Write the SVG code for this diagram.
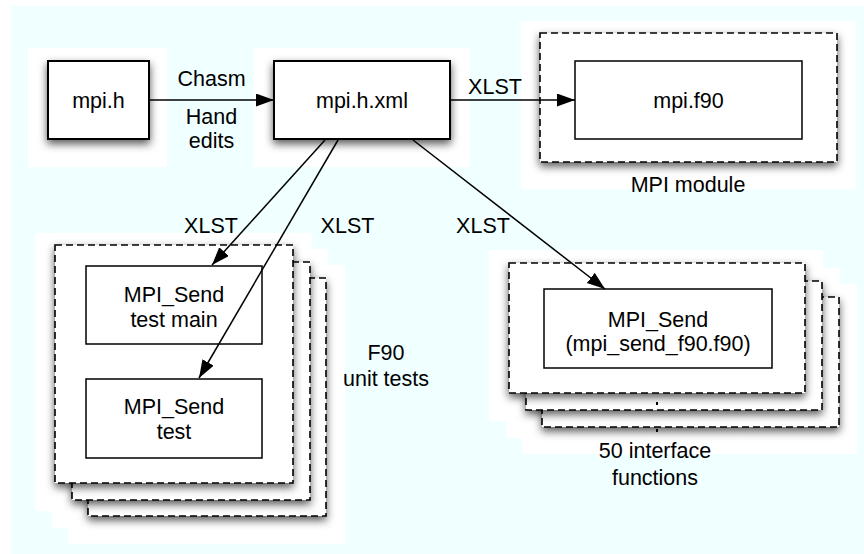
<svg xmlns="http://www.w3.org/2000/svg" width="864" height="554" viewBox="0 0 864 554">
  <defs>
    <filter id="shadow" x="-20%" y="-20%" width="140%" height="160%">
      <feDropShadow dx="0" dy="4" stdDeviation="4" flood-color="#000" flood-opacity="0.65"/>
    </filter>
    <marker id="arrow" markerUnits="userSpaceOnUse" markerWidth="20" markerHeight="14" refX="18" refY="6.5" orient="auto">
      <path d="M0,0 L18,6.5 L0,13 Z" fill="#000"/>
    </marker>
  </defs>
  <style>
    .halo { fill: #ffffff; stroke: none; }
    .box { fill: #ffffff; stroke: #000; stroke-width: 2; }
    .inner { fill: #ffffff; stroke: #000; stroke-width: 1.5; }
    .sheet { fill: #ffffff; stroke: #000; stroke-width: 1.6; stroke-dasharray: 7 4; }
    .shadowed { filter: url(#shadow); }
    .label { font-family: "Liberation Sans", Arial, sans-serif; font-size: 21.5px; fill: #000; text-anchor: middle; }
    .edge { fill: none; stroke: #000; stroke-width: 1.5; marker-end: url(#arrow); }
  </style>

  <!-- page background -->
  <rect x="11" y="6" width="853" height="548" fill="#f0ffff"/>

  <!-- white backdrops behind each shape -->
  <g id="backdrops">
    <rect class="halo" x="28" y="48" width="139" height="119"/>
    <rect class="halo" x="254" y="48" width="216" height="119"/>
    <rect class="halo" x="521" y="21" width="335" height="168"/>
    <rect class="halo" x="35" y="233" width="277" height="278"/>
    <rect class="halo" x="52" y="249" width="276" height="279"/>
    <rect class="halo" x="68" y="265" width="277" height="279"/>
    <rect class="halo" x="489" y="250" width="334" height="171"/>
    <rect class="halo" x="506" y="268" width="334" height="170"/>
    <rect class="halo" x="522" y="284" width="335" height="170"/>
  </g>

  <g id="mpi-h">
    <rect class="box shadowed" x="48" y="61" width="101" height="78"/>
    <text class="label" x="98.5" y="108">mpi.h</text>
  </g>

  <g id="mpi-h-xml">
    <rect class="box shadowed" x="274" y="61" width="176" height="78"/>
    <text class="label" x="362" y="108">mpi.h.xml</text>
  </g>

  <g id="mpi-module">
    <rect class="sheet shadowed" x="540" y="33" width="297" height="129"/>
    <rect class="inner" x="575" y="61" width="227" height="78"/>
    <text class="label" x="688.5" y="108">mpi.f90</text>
    <text class="label" x="688" y="192">MPI module</text>
  </g>

  <g id="unit-tests">
    <rect class="sheet shadowed" x="88" y="278" width="238" height="238"/>
    <rect class="sheet shadowed" x="72" y="262" width="238" height="238"/>
    <rect class="sheet shadowed" x="55" y="245" width="238" height="238"/>
    <g id="test-main">
      <rect class="inner" x="86" y="266" width="176" height="78"/>
      <text class="label" x="174" y="302">MPI_Send</text>
      <text class="label" x="174" y="327">test main</text>
    </g>
    <g id="test">
      <rect class="inner" x="86" y="379" width="176" height="79"/>
      <text class="label" x="174" y="414">MPI_Send</text>
      <text class="label" x="174" y="439">test</text>
    </g>
    <text class="label" x="386" y="360">F90</text>
    <text class="label" x="386" y="386">unit tests</text>
  </g>

  <g id="interface-functions">
    <rect class="sheet shadowed" x="542" y="297" width="297" height="130"/>
    <rect class="sheet shadowed" x="526" y="281" width="296" height="129"/>
    <rect class="sheet shadowed" x="509" y="263" width="296" height="130"/>
    <rect x="656" y="402" width="2" height="3" fill="#000"/>
    <rect x="656" y="429" width="2" height="3" fill="#000"/>
    <g id="mpi-send">
      <rect class="inner" x="544" y="289" width="228" height="79"/>
      <text class="label" x="658" y="327">MPI_Send</text>
      <text class="label" x="658" y="351">(mpi_send_f90.f90)</text>
    </g>
    <text class="label" x="655" y="458">50 interface</text>
    <text class="label" x="655" y="485">functions</text>
  </g>

  <g id="connectors">
    <line class="edge" x1="149" y1="100" x2="274" y2="100"/>
    <line class="edge" x1="450" y1="100" x2="575" y2="100"/>
    <line class="edge" x1="325" y1="140" x2="212" y2="265"/>
    <line class="edge" x1="338" y1="140" x2="199" y2="378"/>
    <line class="edge" x1="413" y1="140" x2="605" y2="289"/>
    <text class="label" x="211.5" y="86">Chasm</text>
    <text class="label" x="211.5" y="124">Hand</text>
    <text class="label" x="211.5" y="148">edits</text>
    <text class="label" x="495" y="94">XLST</text>
    <text class="label" x="211" y="233">XLST</text>
    <text class="label" x="347.5" y="233">XLST</text>
    <text class="label" x="483" y="233">XLST</text>
  </g>
</svg>
